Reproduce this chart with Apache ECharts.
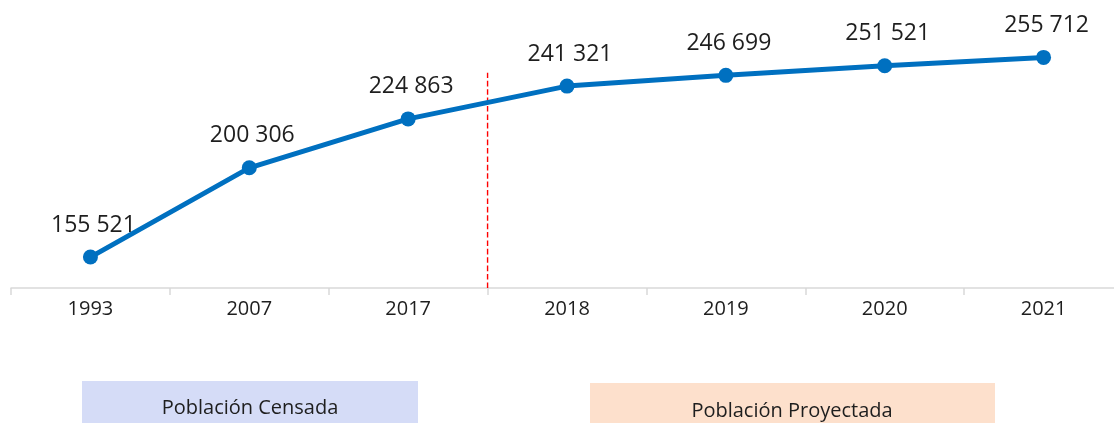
<!DOCTYPE html>
<html><head><meta charset="utf-8">
<script src="https://cdn.jsdelivr.net/npm/echarts@6/dist/echarts.min.js"></script>
<style>html,body{margin:0;padding:0;background:#fff;overflow:hidden;width:1114px;height:423px}#c{width:1130px;height:423px}</style>
</head><body><div id="c"></div>
<script>
const years = ['1993','2007','2017','2018','2019','2020','2021'];
const population = [155521, 200306, 224863, 241321, 246699, 251521, 255712];
const legendLabels = ['Población Censada', 'Población Proyectada'];
const dividerIndex = 3;      // boundary between 2017 and 2018
const dividerRange = [140000, 248000];   // bottom/top values of the dashed divider

const chart = echarts.init(document.getElementById('c'), null, {renderer:'canvas'});
const fmt = v => String(v).replace(/\B(?=(\d{3})+(?!\d))/g, ' ');
const font = '"Open Sans", sans-serif';

chart.setOption({
  animation:false,
  grid:{left:11, width:1112, top:9, bottom:135, containLabel:false},
  xAxis:[{
    type:'category', data:years, boundaryGap:true,
    axisLine:{lineStyle:{color:'#d9d9d9', width:1.5}},
    axisTick:{show:true, length:7, lineStyle:{color:'#d9d9d9', width:1.5}},
    axisLabel:{color:'#1e1e1e', fontSize:20, fontFamily:font, margin:11}
  },{
    type:'value', min:0, max:years.length, show:false
  }],
  yAxis:{type:'value', min:140000, max:280000, show:false, splitLine:{show:false}},
  series:[{
    type:'line', xAxisIndex:1, silent:true, z:1,
    data:dividerRange.map(v=>[dividerIndex, v]),
    symbol:'none', color:'#ff0000', itemStyle:{color:'#ff0000'},
    lineStyle:{color:'#ff0000', type:'dashed', dashOffset:0, width:1.4, opacity:1}
  },{
    type:'line', data:population, xAxisIndex:0, z:3,
    lineStyle:{color:'#0070c0', width:5},
    itemStyle:{color:'#0070c0'},
    symbol:'circle', symbolSize:15,
    label:{show:true, position:'top', distance:13, formatter:p=>fmt(p.value),
      color:'#1e1e1e', fontSize:23, fontFamily:font, offset:[3,0]}
  }],
  graphic:[
    {type:'rect', left:82, top:381, shape:{width:336, height:42}, style:{fill:'#d5dcf7'}},
    {type:'text', style:{text:legendLabels[0], fill:'#1e1e1e', font:'20px "Open Sans", sans-serif', textAlign:'center', textVerticalAlign:'middle', x:250, y:408}},
    {type:'rect', left:590, top:383, shape:{width:405, height:40}, style:{fill:'#fde0cc'}},
    {type:'text', style:{text:legendLabels[1], fill:'#1e1e1e', font:'20px "Open Sans", sans-serif', textAlign:'center', textVerticalAlign:'middle', x:792, y:411}}
  ]
});
</script></body></html>
